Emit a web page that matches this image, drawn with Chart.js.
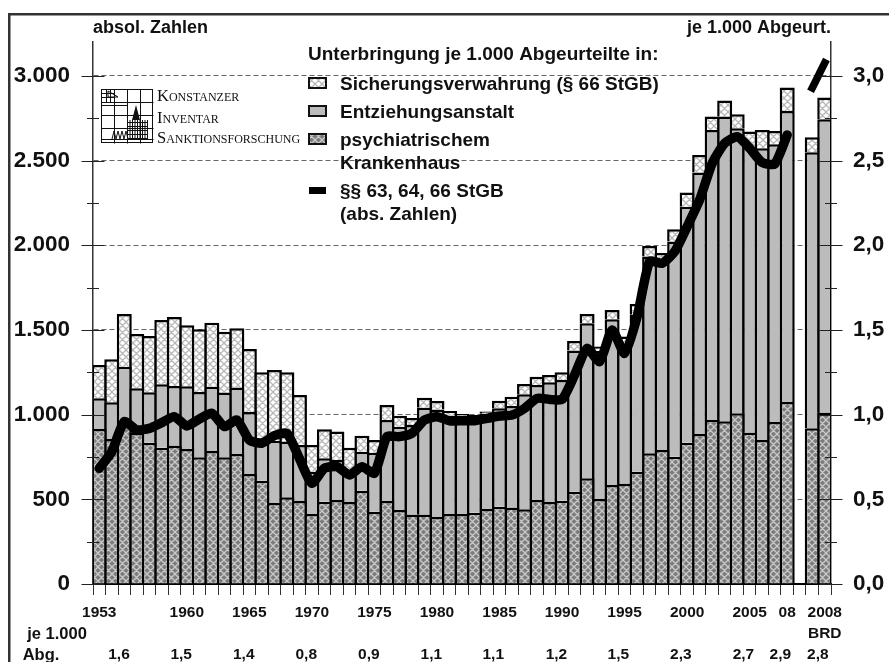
<!DOCTYPE html>
<html><head><meta charset="utf-8">
<style>html,body{margin:0;padding:0;background:#fff}canvas{display:block}</style>
<script src="https://cdn.jsdelivr.net/npm/chart.js@4/dist/chart.umd.min.js"></script>
</head><body><canvas id="c" width="889" height="662"></canvas>
<script>
const categories=['1953','1954','1955','1956','1957','1958','1959','1960','1961','1962','1963','1964','1965','1966','1967','1968','1969','1970','1971','1972','1973','1974','1975','1976','1977','1978','1979','1980','1981','1982','1983','1984','1985','1986','1987','1988','1989','1990','1991','1992','1993','1994','1995','1996','1997','1998','1999','2000','2001','2002','2003','2004','2005','2006','2007','2008','','2007 BRD','2008 BRD'];
const yearLabels={'1953':'1953','1960':'1960','1965':'1965','1970':'1970','1975':'1975','1980':'1980','1985':'1985','1990':'1990','1995':'1995','2000':'2000','2005':'2005','2008':'08','2008 BRD':['2008','BRD']};
const psychiatrie=[.915,.856,.950,.891,.834,.805,.817,.797,.748,.785,.748,.768,.650,.610,.478,.512,.490,.413,.486,.496,.484,.551,.427,.490,.437,.411,.411,.395,.413,.414,.421,.443,.456,.451,.441,.496,.484,.492,.545,.624,.502,.585,.594,.663,.772,.791,.752,.834,.886,.968,.961,1.008,.894,.850,.957,1.075,null,.919,1.012];
const entziehung=[.181,.217,.333,.264,.298,.374,.352,.370,.386,.380,.382,.392,.366,.250,.368,.329,.330,.250,.256,.236,.189,.230,.348,.478,.492,.528,.630,.635,.581,.571,.564,.562,.582,.600,.679,.679,.707,.713,.833,.915,.874,.978,.818,.926,1.161,1.127,1.270,1.394,1.543,1.713,1.799,1.683,1.688,1.723,1.640,1.718,null,1.630,1.732];
const sicherung=[.197,.254,.311,.321,.332,.380,.408,.360,.370,.378,.360,.350,.372,.390,.418,.409,.296,.158,.172,.168,.132,.095,.075,.089,.065,.041,.059,.051,.028,.019,.013,.013,.044,.055,.061,.049,.043,.045,.057,.055,.026,.055,.049,.064,.063,.036,.072,.083,.104,.079,.094,.083,.089,.108,.078,.138,null,.089,.128];
const absolut=[683,781,959,910,919,953,988,933,974,1008,929,968,850,831,876,890,742,595,683,693,644,693,654,870,870,890,968,988,964,964,964,978,992,998,1037,1096,1090,1090,1234,1391,1313,1500,1362,1578,1904,1894,1962,2110,2268,2484,2602,2641,2573,2488,2480,2651,null,null,null];
const absolutBRD=[2929,3077];
const leftTicks=[0,250,500,750,1000,1250,1500,1750,2000,2250,2500,2750,3000];
const rightTicks=[0,.25,.5,.75,1,1.25,1.5,1.75,2,2.25,2.5,2.75,3];
const rateLabels=['1,6','1,5','1,4','0,8','0,9','1,1','1,1','1,2','1,5','2,3','2,7','2,9','2,8'];
const rateLabelPositions=[1.58,6.55,11.55,16.55,21.55,26.55,31.5,36.55,41.5,46.5,51.5,54.45,57.45];
const legendTitle='Unterbringung je 1.000 Abgeurteilte in:';
const seriesNames=['Sicherungsverwahrung (§ 66 StGB)','Entziehungsanstalt','psychiatrischem','Krankenhaus','§§ 63, 64, 66 StGB','(abs. Zahlen)'];
const logoLines=['Konstanzer','Inventar','Sanktionsforschung'];

const FONT="'Liberation Sans',Arial,sans-serif", INK='#111';
function hatch(bg,fg){
  const t=document.createElement('canvas');t.width=t.height=7;
  const g=t.getContext('2d');g.fillStyle=bg;g.fillRect(0,0,7,7);
  g.strokeStyle=fg;g.lineWidth=1.3;
  g.beginPath();
  for(let k=-7;k<=7;k+=7){g.moveTo(k,0);g.lineTo(k+7,7);g.moveTo(k+7,0);g.lineTo(k,7);}
  g.stroke();
  return document.getElementById('c').getContext('2d').createPattern(t,'repeat');
}
const patDark=hatch('#7c7c7c','#c9c9c9'), patLight=hatch('#ffffff','#b8b8b8'), GREY='#bcbcbc';

const decor={id:'decor',
 afterDatasetsDraw(ch){
  const c=ch.ctx;
  c.save();c.strokeStyle='#222';c.lineWidth=1;
  const ax=(s,vals,x,unit)=>{vals.forEach(v=>{
    const y=Math.round(s.getPixelForValue(v))+.5,maj=Math.round(v*1000/unit)%500===0;
    const h=maj?11.5:6;
    c.beginPath();c.moveTo(x-h,y);c.lineTo(x+h,y);c.stroke();});};
  ax(ch.scales.y,leftTicks,ch.chartArea.left,1000);ax(ch.scales.y2,rightTicks,ch.chartArea.right,1);
  c.restore();
 },
 afterDraw(ch){
  const c=ch.ctx,X=ch.scales.x;
  c.save();c.textBaseline='alphabetic';
  c.fillStyle='#333';c.fillRect(8,13,881,2.5);c.fillRect(8,13,2.5,649);
  c.fillStyle=INK;
  c.font='bold 18px '+FONT;c.textAlign='left';c.fillText('absol. Zahlen',93,33);
  c.textAlign='right';c.fillText('je 1.000 Abgeurt.',831,33);
  c.font='bold 16.5px '+FONT;c.textAlign='center';
  c.fillText('je 1.000',57,639);c.fillText('Abg.',41,660);
  c.font='bold 15.5px '+FONT;
  rateLabels.forEach((s,i)=>c.fillText(s,X.getPixelForValue(rateLabelPositions[i]),659));
  c.textAlign='left';c.font='bold 19px '+FONT;
  c.fillText(legendTitle,308,60);
  const base=[89.5,117.7,146,168.5,197,219.5];
  seriesNames.forEach((s,i)=>c.fillText(s,340,base[i]));
  const sw=[[78,patLight],[106,GREY],[134,patDark]];
  sw.forEach(([y,p])=>{c.fillStyle=p;c.fillRect(309,y,17,10);c.strokeStyle=INK;c.lineWidth=2;c.strokeRect(309,y,17,10);});
  c.fillStyle='#000';c.fillRect(309,187,17,7);
  c.strokeStyle='#111';c.lineWidth=1;
  c.strokeRect(101.5,89.5,51,53);
  [[101,102,153,102],[101,115,153,115],[101,128,153,128],[101,139,153,139],[114,89,114,143],[127,89,127,143],[140,89,140,143],[106,89,106,102],[110,89,110,102],[101,93,114,93],[101,97,114,97],[101,105,127,105]].forEach(l=>{c.beginPath();c.moveTo(l[0]+.5,l[1]+.5);c.lineTo(l[2]+.5,l[3]+.5);c.stroke();});
  c.beginPath();c.moveTo(108,91);c.lineTo(118,97);c.lineTo(108,97);c.closePath();c.stroke();
  c.fillStyle='#111';
  c.beginPath();c.moveTo(136,105);c.lineTo(132,120);c.lineTo(140,120);c.closePath();c.fill();
  for(let x=127;x<=147;x+=2.5)c.fillRect(x,120,1,19);
  for(let y=122;y<139;y+=4)c.fillRect(127,y,21,1);
  for(let x=112;x<127;x+=4){c.beginPath();c.moveTo(x,139);c.lineTo(x+2,131);c.lineTo(x+4,139);c.stroke();}
  c.textAlign='left';c.fillStyle=INK;
  c.font="small-caps 16.5px 'Liberation Serif',serif";
  c.fillText(logoLines[0],157,101);c.fillText(logoLines[1],157,123);c.fillText(logoLines[2],157,143);
  c.restore();
 }};

new Chart(document.getElementById('c'),{
 type:'bar',
 data:{labels:categories,datasets:[
  {label:seriesNames[2]+' '+seriesNames[3],data:psychiatrie,yAxisID:'y2',stack:'s',backgroundColor:patDark,borderColor:'#000',borderWidth:2.5,order:2},
  {label:seriesNames[1],data:entziehung,yAxisID:'y2',stack:'s',backgroundColor:GREY,borderColor:'#000',borderWidth:2.5,order:2},
  {label:seriesNames[0],data:sicherung,yAxisID:'y2',stack:'s',backgroundColor:patLight,borderColor:'#000',borderWidth:2.5,order:2},
  {type:'line',label:seriesNames[4],data:absolut,yAxisID:'y',borderColor:'#000',borderWidth:9.5,pointRadius:0,tension:.2,borderCapStyle:'round',borderJoinStyle:'round',order:0,spanGaps:false},
  {type:'line',label:'§§ 63, 64, 66 StGB (BRD)',data:categories.map((_,i)=>i>=57?absolutBRD[i-57]:null),yAxisID:'y',borderColor:'#000',borderWidth:7.5,pointRadius:0,borderCapStyle:'square',order:0,spanGaps:false}
 ]},
 options:{
  responsive:false,animation:false,
  layout:{padding:{top:42,left:0,right:0,bottom:0}},
  datasets:{bar:{barPercentage:1.2,categoryPercentage:1}},
  plugins:{legend:{display:false},title:{display:false},tooltip:{enabled:false}},
  scales:{
   x:{stacked:true,offset:true,
      afterFit:s=>{s.height=78;},
      grid:{display:true,drawOnChartArea:false,drawTicks:true,tickLength:11,tickColor:'#333',tickWidth:1},
      border:{display:true,color:'#000',width:2},
      ticks:{autoSkip:false,maxRotation:0,minRotation:0,padding:7,color:INK,
        font:{family:FONT,weight:'bold',size:15.5,lineHeight:1.35},
        callback:function(v,i){return yearLabels[categories[i]]||'';}}},
   y:{position:'left',min:0,max:3200,
      afterFit:s=>{s.width=93;},
      afterBuildTicks:s=>{s.ticks=leftTicks.map(value=>({value}));},
      grid:{drawTicks:false,color:c=>c.tick&&c.tick.value%500===0&&c.tick.value>0?'#666':'rgba(0,0,0,0)',lineWidth:1},
      border:{display:true,color:'#333',width:1.5,dash:[5,3]},
      ticks:{autoSkip:false,padding:23,color:INK,font:{family:FONT,weight:'bold',size:22.5},
        callback:v=>v%500===0?(v>=1000?Math.floor(v/1000)+'.'+String(v%1000).padStart(3,'0'):String(v)):''}},
   y2:{position:'right',min:0,max:3.2,stacked:true,
      afterFit:s=>{s.width=58;},
      afterBuildTicks:s=>{s.ticks=rightTicks.map(value=>({value}));},
      grid:{drawOnChartArea:false,drawTicks:false},
      border:{display:true,color:'#333',width:1.5},
      ticks:{autoSkip:false,padding:22,color:INK,font:{family:FONT,weight:'bold',size:22.5},
        callback:v=>Math.round(v*1000)%500===0?v.toFixed(1).replace('.',','):''}}
  }
 },
 plugins:[decor]
});
</script></body></html>
